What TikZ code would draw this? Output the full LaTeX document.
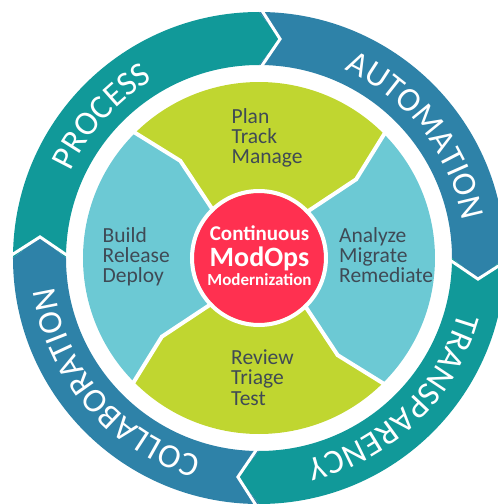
\documentclass[tikz,border=0pt]{standalone}
\usepackage{fontspec}
\setmainfont{Carlito}
\usetikzlibrary{decorations.text}
\definecolor{cteal}{HTML}{119999}
\definecolor{cblue}{HTML}{2E82A8}
\definecolor{cgreen}{HTML}{C0D630}
\definecolor{clight}{HTML}{6CC9D4}
\definecolor{cred}{HTML}{FF3050}
\definecolor{ctext}{HTML}{3F4A55}
\newcommand\ringpiece[3]{%
  \fill[#1] (#2:246) arc[start angle=#2, end angle=#3, radius=246] -- ({#3-5.5}:220) -- (#3:193) arc[start angle=#3, end angle=#2, radius=193] -- ({#2-5.5}:220) -- cycle;}
\newcommand\ringsep[1]{\draw[sepline, line width=3] (#1:252) -- ({#1-5.5}:220) -- (#1:188);}
\newcommand\segpiece[3]{%
  \fill[#1] (#2:60) -- ({#2-6}:125) -- (#2:176) arc[start angle=#2, end angle=#3, radius=176] -- ({#3-6}:125) -- (#3:60) -- cycle;}
\newcommand\segsep[1]{\draw[sepline, line width=4] (#1:60) -- ({#1-6}:125) -- (#1:180);}
\tikzset{
  sepline/.style={white, line join=miter},
  ringtext/.style={decorate, decoration={text along path, text align=center,
     text={|\fontsize{34}{34}\selectfont\color{white}|#1}}},
  seglabel/.style={text=ctext, font=\fontsize{21.5}{21.5}\selectfont, anchor=base west, inner sep=0pt},
  hublabel/.style={text=white, anchor=base, inner sep=0pt},
}
\begin{document}
\begin{tikzpicture}[x=1pt,y=1pt]
\useasboundingbox (-259,-246) rectangle (239,258);
\clip (-259,-246) rectangle (239,258);
% outer ring
\ringpiece{cteal}{180}{90}
\ringpiece{cblue}{90}{0}
\ringpiece{cteal}{0}{-90}
\ringpiece{cblue}{270}{180}
\ringsep{90}\ringsep{0}\ringsep{-90}\ringsep{180}
\path[ringtext=PROCESS] (180:207) arc[start angle=180, end angle=96, radius=207];
\path[ringtext=AUTOMATION] (83:207) arc[start angle=83, end angle=-7, radius=207];
\path[ringtext=TRANSPARENCY] (0:207) arc[start angle=0, end angle=-92, radius=207];
\path[ringtext=COLLABORATION] (268:207) arc[start angle=268, end angle=174, radius=207];
% inner segments
\segpiece{cgreen}{135}{45}
\segpiece{clight}{45}{-45}
\segpiece{cgreen}{-45}{-135}
\segpiece{clight}{225}{135}
\segsep{135}\segsep{45}\segsep{-45}\segsep{-135}
% hub
\fill[cred] (0,0) circle[radius=65];
\draw[white, line width=4] (0,0) circle[radius=67];
\node[hublabel, font=\bfseries\fontsize{21}{21}\selectfont] (h1) at (0.5,17.3) {Continuous};
\node[hublabel, font=\bfseries\fontsize{28}{28}\selectfont] (h2) at (0.5,-8.7) {ModOps};
\node[hublabel, font=\bfseries\fontsize{17}{17}\selectfont] (h3) at (0.5,-27) {Modernization};
% labels
\node[seglabel] (p1) at (-27.5,135) {Plan};
\node[seglabel] (p2) at (-27.5,115) {Track};
\node[seglabel] (p3) at (-27.5,95) {Manage};
\node[seglabel] (b1) at (-156.5,16) {Build};
\node[seglabel] (b2) at (-156.5,-4) {Release};
\node[seglabel] (b3) at (-156.5,-24) {Deploy};
\node[seglabel] (a1) at (80,16) {Analyze};
\node[seglabel] (a2) at (80,-4) {Migrate};
\node[seglabel] (a3) at (80,-24) {Remediate};
\node[seglabel] (r1) at (-28,-106) {Review};
\node[seglabel] (r2) at (-28,-126.5) {Triage};
\node[seglabel] (r3) at (-28,-147) {Test};
\end{tikzpicture}
\end{document}
